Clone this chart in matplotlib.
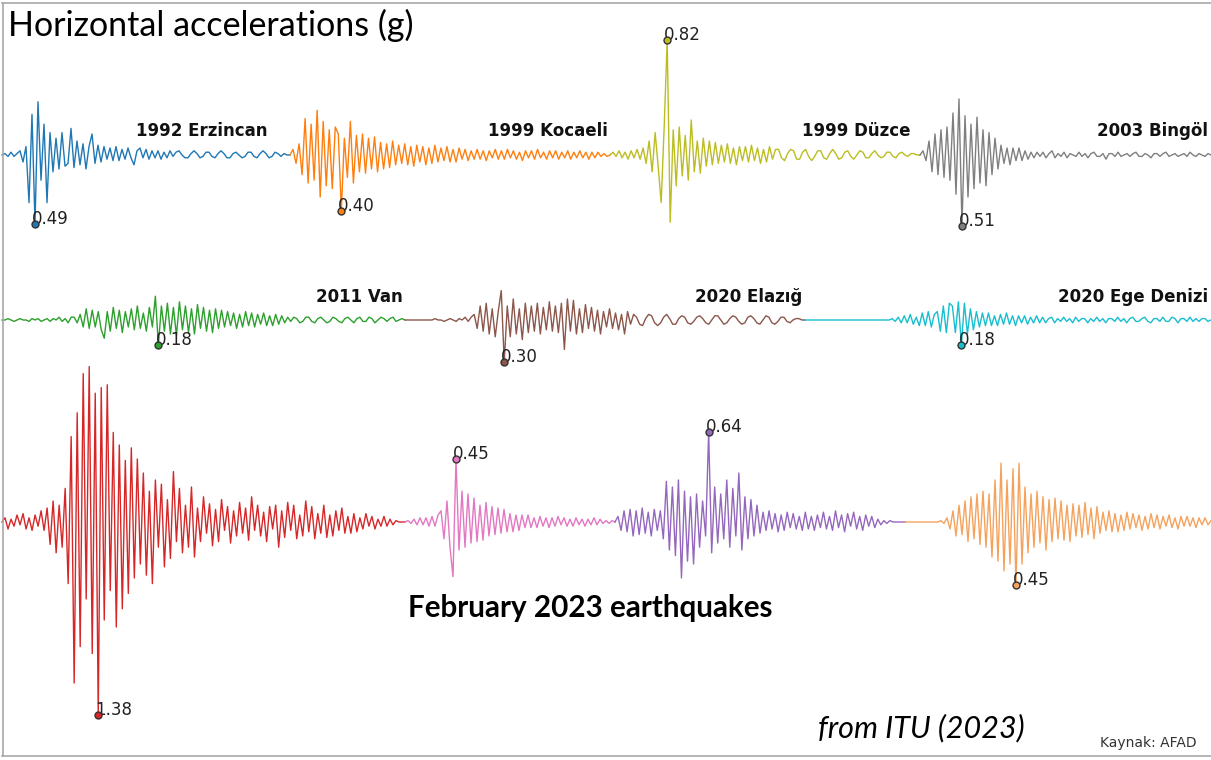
import numpy as np
import matplotlib
matplotlib.use("Agg")
import matplotlib.pyplot as plt
from matplotlib.lines import Line2D

# -------------------------------------------------------
# Horizontal acceleration records (g).
# Each record is sampled at equal time steps.
# -------------------------------------------------------
ERZINCAN_1992 = [
    0, .01, -.01, .02, -.01, .01, .03, -.05,
    .06, -.34, .29, -.49, .38, -.18, .22, -.34,
    .16, -.12, .12, -.10, .16, -.08, -.06, .19,
    -.09, .10, -.07, .08, -.10, .06, .15, -.06,
    .07, -.05, .06, -.03, .05, -.04, .06, -.04,
    .04, -.03, .05, -.02, -.07, .03, .05, -.02,
    .04, -.03, .03, -.02, .03, -.03, .02, -.02,
    .03, -.01, .02, .03, 0, -.02, -.02, .01,
    .03, .01, -.02, -.01, .02, .02, -.01, -.02,
    .01, .03, .01, -.02, -.02, .01, .02, 0,
    -.02, -.01, .02, .02, -.01, -.02, .01, .03,
    .01, -.02, -.01, .02, .01, -.01, .01, 0, 0,
]
KOCAELI_1999 = [
    0, .04, -.06, .08, -.14, .26, -.20, .22,
    -.18, .32, -.30, .24, -.22, .18, -.24, .20,
    .15, -.40, .12, -.16, .24, -.20, .14, -.12,
    .15, -.13, .12, -.10, .13, -.12, .09, -.10,
    .08, -.09, .10, -.07, .07, -.06, .08, -.07,
    .06, -.08, .07, -.05, .06, -.07, .05, -.06,
    .07, -.05, .05, -.04, .06, -.05, .04, -.05,
    .05, -.03, .04, -.04, .03, -.03, .04, -.03,
    .03, -.04, .03, -.02, .04, -.03, .03, -.03,
    .04, -.02, .03, -.03, .02, -.04, .03, -.02,
    .03, -.03, .04, -.02, .02, -.03, .03, -.02,
    .03, -.03, .02, -.02, .03, -.03, .02, -.02,
    .03, -.02, .02, -.03, .02, -.02, .02, -.01, .01, -.01, 0,
]
DUZCE_1999 = [
    0, .02, -.01, .03, -.02, .02, -.03, .03,
    -.02, .04, -.03, .05, -.06, .10, -.12, .16,
    -.08, -.34, .20, .82, -.48, .18, -.22, .20,
    -.15, .14, -.18, .25, -.12, .10, -.13, .12,
    -.08, .10, -.07, .09, -.06, .07, -.05, .08,
    -.06, .05, -.07, .06, -.04, .06, -.05, .07,
    -.04, .05, -.06, .04, -.05, .06, -.03, .04,
    .04, -.02, -.04, .01, .04, .03, -.03, -.03,
    .02, .04, -.01, -.04, -.01, .03, .03, -.02,
    -.03, .01, .04, .01, -.03, -.02, .02, .03,
    -.01, -.03, 0, .03, .02, -.02, -.02, .01,
    .03, 0, -.02, -.01, .02, .02, -.01, -.02,
    .01, .02, 0, -.01, .01, .01, 0, 0,
]
BINGOL_2003 = [
    0, .03, -.04, .10, -.12, .15, -.14, .18,
    -.16, .20, -.18, .30, -.28, .40, -.51, .28,
    -.30, .22, -.24, .27, -.20, .18, -.22, .16,
    -.14, .12, -.10, .07, -.06, .05, -.07, .05,
    -.04, .05, -.04, .03, -.03, .02, -.02, .02,
    -.01, .02, -.02, .01, .03, -.02, .01, -.01,
    .02, -.02, .01, 0, -.01, .02, -.01, .01,
    -.02, .01, .02, -.01, -.01, .01, -.03, .01,
    .01, -.01, .02, -.01, 0, .01, -.01, .01,
    .02, -.01, -.01, .01, 0, -.02, .01, .01,
    -.01, .01, .02, -.01, 0, .01, -.01, 0,
    .01, -.01, .02, 0, -.01, .01, 0, -.01, .01, 0,
]
VAN_2011 = [
    0, 0, .01, 0, -.01, 0, .01, 0,
    0, -.01, .01, 0, .01, -.01, 0, .01,
    -.01, .01, 0, .02, -.01, .01, -.02, .02,
    .02, -.02, .04, -.05, .08, -.06, .07, -.05,
    .06, -.07, -.13, .06, -.08, .09, -.06, .07,
    -.09, .06, -.05, .08, -.07, .10, -.06, .05,
    -.08, .09, -.05, .17, -.18, .10, -.08, .12,
    -.10, .09, -.11, .13, -.07, .10, -.09, .08,
    -.10, .11, -.06, .09, -.08, .07, -.09, .08,
    -.06, .07, -.05, .06, -.04, .05, -.06, .04,
    -.05, .06, -.04, .05, -.05, .04, -.03, .05,
    -.04, .03, -.04, .04, -.03, .03, -.02, .02,
    -.01, .02, .01, -.02, -.01, .02, .02, -.01,
    -.02, .01, .02, 0, -.02, -.01, .02, .01,
    -.01, -.02, .01, .02, 0, -.02, .01, .02,
    -.01, -.01, .02, .01, -.02, 0, .02, .01,
    -.01, .01, .02, -.01, 0, .01, 0,
]
ELAZIG_2020 = [
    0, 0, 0, 0, 0, 0, 0, 0,
    0, 0, .01, 0, 0, -.01, 0, .01,
    0, -.01, .01, 0, .02, -.01, .02, .04,
    -.06, .10, -.08, .12, -.10, .08, -.12, .06,
    .21, -.30, .10, -.12, .15, -.10, .08, -.14,
    .12, -.09, .10, -.08, .12, -.10, .09, -.07,
    .13, -.08, .10, -.09, .12, -.21, .15, -.08,
    .14, -.10, .08, -.09, .11, -.06, .09, -.08,
    .07, -.10, .06, -.05, .08, -.06, .05, -.07,
    .04, -.10, .06, -.03, .04, .02, -.03, -.04,
    .01, .04, .03, -.02, -.04, -.02, .02, .04,
    .01, -.03, -.03, .01, .03, .02, -.02, -.03,
    -.01, .02, .03, .01, -.02, -.03, 0, .03,
    .03, 0, -.03, -.02, .01, .03, .02, -.01,
    -.03, -.02, .02, .03, .01, -.02, -.03, 0,
    .03, .02, -.02, -.03, -.01, .02, .02, -.01,
    -.02, 0, .01, .01, 0, 0,
]
EGE_DENIZI_2020 = [
    0, 0, 0, 0, 0, 0, 0, 0,
    0, 0, 0, 0, 0, 0, 0, 0,
    0, 0, 0, 0, 0, 0, 0, 0,
    0, 0, 0, 0, 0, .01, -.01, .02,
    -.02, .03, -.02, .04, -.03, .02, -.04, .05,
    -.04, .06, -.05, .04, .06, -.08, .10, -.09,
    .12, .10, -.09, .13, -.18, .12, -.10, .08,
    -.07, .06, -.05, .05, -.04, .05, -.04, .03,
    -.04, .04, -.03, .05, -.03, .03, -.04, .03,
    -.02, .03, -.03, .02, -.02, .03, -.02, .02,
    -.02, .01, .02, -.02, .01, -.01, .02, -.01,
    .01, -.02, .02, -.01, .01, .01, -.02, .01,
    -.01, .02, -.01, .01, -.02, .01, .01, -.01,
    .02, -.01, .01, -.02, .01, .02, -.01, -.01,
    .01, .02, -.01, -.02, .01, .01, -.01, .02,
    -.01, -.01, .02, .01, -.02, .01, .01, -.01,
    .02, -.01, .01, -.01, .01, .01, -.01, 0,
]
# February 2023 sequence
FEB2023_A = [
    0, .03, -.05, .02, -.03, .05, -.02, .06,
    -.05, .03, -.06, .05, -.03, .08, -.06, .10,
    -.16, .15, -.22, .12, -.18, .24, -.44, .61,
    -1.15, .78, -.89, 1.06, -.55, 1.11, -.94, .92,
    -1.38, .96, -.70, .98, -.49, .64, -.75, .55,
    -.62, .44, -.51, .53, -.40, .45, -.30, .35,
    -.38, .22, -.44, .30, -.18, .27, -.32, .16,
    -.26, .36, -.14, .24, -.22, .12, -.18, .25,
    -.25, .10, -.14, .18, -.08, .13, -.17, .09,
    -.14, .16, -.06, .11, -.15, .08, -.10, .14,
    -.08, .10, -.13, .18, -.06, .12, -.10, .07,
    -.14, .11, -.05, .12, -.18, .08, -.11, .14,
    -.06, .12, -.12, .05, -.10, .15, -.07, .11,
    -.12, .06, -.08, .12, -.11, .05, -.10, .08,
    -.06, .10, -.08, .04, -.08, .06, -.07, .03,
    -.05, .06, -.03, .04, -.05, .02, -.03, .04,
    -.03, .02, -.02, .01, 0, 0, 0,
]
FEB2023_B = [
    0, .01, -.01, .02, -.02, .03, -.02, .03,
    -.03, .04, -.03, .05, .08, -.12, .15, -.18,
    -.39, .45, -.20, .22, -.18, .20, -.15, .17,
    -.14, .12, -.13, .14, -.10, .11, -.09, .10,
    -.08, .09, -.07, .06, -.07, .05, -.06, .05,
    -.04, .05, -.04, .03, -.04, .04, -.03, .03,
    -.04, .03, -.03, .04, -.02, .03, -.03, .02,
    -.03, .03, -.02, .02, -.03, .02, -.02, .03,
    -.02, .02, -.01, .01, -.01, .01, 0,
]
FEB2023_C = [
    0, .04, -.06, .08, -.07, .09, -.10, .08,
    -.09, .10, -.08, .07, -.10, .09, -.06, .08,
    -.12, .29, -.20, .25, -.24, .30, -.40, .22,
    -.28, .18, -.30, .20, -.18, .15, -.10, .64,
    -.22, .25, -.15, .20, -.12, .30, -.18, .24,
    -.10, .35, -.20, .18, -.12, .16, -.10, .12,
    -.08, .07, -.06, .08, -.05, .06, -.07, .05,
    -.06, .07, -.04, .06, -.05, .04, -.06, .07,
    -.05, .04, -.06, .05, -.04, .07, -.05, .04,
    -.06, .08, -.04, .05, -.07, .06, -.03, .07,
    -.05, .04, -.06, .05, -.03, .04, -.04, .02,
    -.02, .01, -.01, .01, 0, 0, 0, 0, 0,
]
FEB2023_D = [
    0, 0, 0, 0, 0, 0, 0, 0,
    0, 0, 0, 0, .01, -.01, .03, -.05,
    .08, -.10, .12, -.09, .15, -.14, .18, -.12,
    .20, -.16, .22, -.18, .20, -.25, .30, -.28,
    .42, -.35, .30, -.30, .38, -.45, .42, -.30,
    .25, -.22, .20, -.18, .22, -.15, .18, -.20,
    .16, -.14, .17, -.12, .15, -.13, .12, -.14,
    .13, -.10, .12, -.11, .14, -.09, .10, -.12,
    .11, -.08, .07, -.06, .08, -.07, .06, -.07,
    .05, -.06, .07, -.05, .06, -.04, .05, -.06,
    .04, -.05, .06, -.04, .05, -.05, .04, -.03,
    .05, -.04, .03, -.05, .04, -.03, .04, -.03,
    .03, -.04, .03, -.02, .03, -.02, .01,
]

EVENT_NAMES = ["1992 Erzincan", "1999 Kocaeli", "1999 Düzce", "2003 Bingöl",
               "2011 Van", "2020 Elazığ", "2020 Ege Denizi"]

# -------------------------------------------------------
# Layout (pixels of a 1211 x 760 canvas)
# -------------------------------------------------------
W, H = 1211, 760
PX_PER_G = 140.0
ROW_BASE = [155, 320, 522]          # zero line of each row, px from top

# record, row, x start, x end, colour
RECORDS = [
    (ERZINCAN_1992,   0,    2,  290, "#1f77b4"),
    (KOCAELI_1999,    0,  290,  610, "#ff7f0e"),
    (DUZCE_1999,      0,  610,  920, "#bcbd22"),
    (BINGOL_2003,     0,  920, 1211, "#7f7f7f"),
    (VAN_2011,        1,    2,  405, "#2ca02c"),
    (ELAZIG_2020,     1,  405,  805, "#8c564b"),
    (EGE_DENIZI_2020, 1,  805, 1211, "#17becf"),
    (FEB2023_A,       2,    2,  405, "#d62728"),
    (FEB2023_B,       2,  405,  615, "#e377c2"),
    (FEB2023_C,       2,  615,  905, "#9467bd"),
    (FEB2023_D,       2,  905, 1211, "#f5a25d"),
]
# right edge and baseline (px) of each event name
NAME_POS = [(268, 136), (608, 136), (910, 136), (1208, 136),
            (403, 302), (802, 302), (1208, 302)]


def py(y_px):
    """pixel row -> axis units (g)"""
    return -y_px / PX_PER_G


fig = plt.figure(figsize=(W / 100, H / 100), dpi=100)
fig.patch.set_facecolor("white")
ax = fig.add_axes([0, 0, 1, 1])
ax.set_xlim(0, W)
ax.set_ylim(-H / PX_PER_G, 0)
ax.axis("off")

for vals, row, x0, x1, col in RECORDS:
    a = np.asarray(vals, dtype=float)
    t = np.linspace(x0, x1, len(a))
    base = py(ROW_BASE[row])
    ax.plot(t, base + a, color=col, lw=1.0, zorder=2)
    k = int(np.argmax(np.abs(a)))
    ax.plot(t[k], base + a[k], "o", ms=5, mfc=col, mec="#333333", mew=1.0, zorder=4)
    ax.annotate(f"{abs(a[k]):.2f}", (t[k], base + a[k]), xytext=(-3, 0),
                textcoords="offset pixels", ha="left", va="baseline",
                fontsize=12, color="#222222", zorder=3)

for name, (xr, yb) in zip(EVENT_NAMES, NAME_POS):
    ax.text(xr, py(yb), name, ha="right", va="baseline", fontsize=12,
            fontweight="bold", color="#111111", zorder=5)

fig.text(8 / W, 1 - 36 / H, "Horizontal accelerations (g)", family="Lato",
         fontsize=24.5, ha="left", va="baseline", color="black")
fig.text(408 / W, 1 - 617 / H, "February 2023 earthquakes", family="Lato",
         fontweight="bold", fontsize=21.3, ha="left", va="baseline", color="black")
fig.text(818 / W, 1 - 737 / H, "from ITU (2023)", family="Lato", style="italic",
         fontsize=22, ha="left", va="baseline", color="black")
fig.text(1100 / W, 1 - 747 / H, "Kaynak: AFAD", fontsize=10, ha="left",
         va="baseline", color="#333333")

# thin grey frame (top, left, bottom)
for xs, ys in [((2, W), (3, 3)), ((2.5, 2.5), (3, 756)), ((2, W), (756, 756))]:
    fig.add_artist(Line2D([x / W for x in xs], [1 - y / H for y in ys],
                          transform=fig.transFigure, color="#a8a8a8", lw=1.2))

fig.savefig("out.png", dpi=100)
